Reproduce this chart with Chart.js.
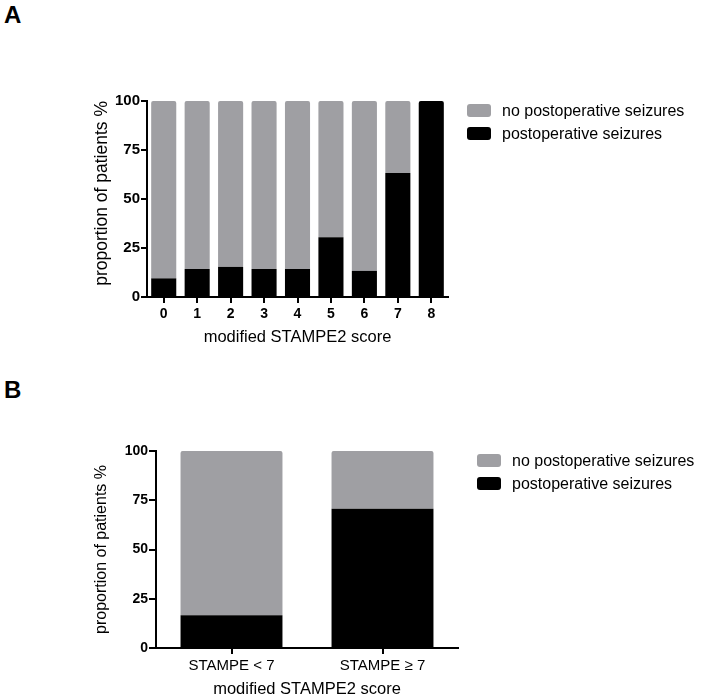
<!DOCTYPE html>
<html>
<head>
<meta charset="utf-8">
<script src="https://cdn.jsdelivr.net/npm/chart.js@4/dist/chart.umd.min.js"></script>
<style>
  body { margin: 0; background: #fff; }
  #page { position: relative; width: 704px; height: 700px; font-family: "Liberation Sans", Arial, sans-serif; }
  .panel { position: absolute; left: 0; width: 704px; height: 350px; }
  .letter { position: absolute; left: 4px; font-size: 24px; font-weight: bold; color: #000; line-height: 24px; }
  .legend { position: absolute; font-size: 16px; color: #000; }
  .legend .item { display: flex; align-items: center; height: 23px; }
  .legend .box { width: 24px; height: 13px; border-radius: 3px; margin-right: 11px; }
</style>
</head>
<body>
<div id="page">
  <div class="letter" style="top:3px">A</div>
  <div class="panel" style="top:0"><canvas id="chartA" width="704" height="350"></canvas></div>
  <div class="legend" id="legendA" style="left:467px; top:99px"></div>

  <div class="letter" style="top:378px">B</div>
  <div class="panel" style="top:350px"><canvas id="chartB" width="704" height="350"></canvas></div>
  <div class="legend" id="legendB" style="left:477px; top:449px"></div>
</div>
<script>
// panel A: modified STAMPE2 score 0..8
const scoresA = ['0', '1', '2', '3', '4', '5', '6', '7', '8'];
const seizuresA = [9.5, 14.3, 15.4, 14.3, 14.3, 30.5, 13.3, 63.3, 100];
const noSeizuresA = [90.5, 85.7, 84.6, 85.7, 85.7, 69.5, 86.7, 36.7, 0];

// panel B: grouped score
const groupsB = ['STAMPE < 7', 'STAMPE \u2265 7'];
const seizuresB = [16.6, 70.7];
const noSeizuresB = [83.4, 29.3];

const yTicks = [0, 25, 50, 75, 100];

const GREY = '#9f9fa3';
const BLACK = '#000000';
const FONT = '"Liberation Sans", Arial, sans-serif';

function makeChart(id, legendId, labels, seiz, noSeiz, cfg) {
  const chart = new Chart(document.getElementById(id), {
    type: 'bar',
    data: {
      labels: labels,
      datasets: [
        { label: 'postoperative seizures', data: seiz, backgroundColor: BLACK, borderRadius: 2, borderWidth: 0 },
        { label: 'no postoperative seizures', data: noSeiz, backgroundColor: GREY, borderRadius: 2, borderWidth: 0 },
      ],
    },
    options: {
      responsive: false,
      animation: false,
      layout: { padding: { left: 0, right: cfg.padRight, top: 101, bottom: 0 } },
      plugins: { legend: { display: false }, tooltip: { enabled: false } },
      datasets: { bar: { categoryPercentage: 1, barPercentage: cfg.barPct } },
      scales: {
        x: {
          stacked: true,
          afterFit: (s) => { s.height = 350 - cfg.bottom; },
          border: { color: '#000', width: 2 },
          grid: { drawOnChartArea: false, offset: false, color: '#000', lineWidth: 2, tickLength: 6 },
          ticks: { color: '#000', padding: cfg.xPad, font: { family: FONT, size: cfg.xSize, weight: cfg.xWeight } },
          title: { display: true, text: 'modified STAMPE2 score', color: '#000',
                   font: { family: FONT, size: 16.5 }, padding: { top: 0, bottom: cfg.xTitlePad } },
        },
        y: {
          stacked: true,
          min: 0, max: 100,
          afterFit: (s) => { s.width = cfg.left; },
          afterBuildTicks: (s) => { s.ticks = yTicks.map(v => ({ value: v })); },
          border: { color: '#000', width: 2 },
          grid: { drawOnChartArea: false, color: '#000', lineWidth: 2, tickLength: cfg.yTick },
          ticks: { color: '#000', padding: 1, font: { family: FONT, size: cfg.ySize, weight: 'bold' } },
          title: { display: true, text: 'proportion of patients %', color: '#000', align: cfg.yTitleAlign,
                   font: { family: FONT, size: cfg.yTitleSize }, padding: { top: cfg.yTitlePad, bottom: 0 } },
        },
      },
    },
  });

  // html legend from the chart's own legend items, grey entry first
  const items = chart.options.plugins.legend.labels.generateLabels(chart).reverse();
  const box = document.getElementById(legendId);
  items.forEach(it => {
    const row = document.createElement('div');
    row.className = 'item';
    const sw = document.createElement('span');
    sw.className = 'box';
    sw.style.background = it.fillStyle;
    const tx = document.createElement('span');
    tx.textContent = it.text;
    row.appendChild(sw);
    row.appendChild(tx);
    box.appendChild(row);
  });
  return chart;
}

makeChart('chartA', 'legendA', scoresA, seizuresA, noSeizuresA, {
  left: 147, padRight: 704 - 448, bottom: 297, barPct: 0.75,
  xPad: 3, xSize: 14, xWeight: 'bold', xTitlePad: 2.8,
  yTick: 6, ySize: 15, yTitleSize: 17.5, yTitlePad: 92, yTitleAlign: 'end',
});

makeChart('chartB', 'legendB', groupsB, seizuresB, noSeizuresB, {
  left: 156, padRight: 704 - 458, bottom: 298, barPct: 0.675,
  xPad: 3, xSize: 15, xWeight: 'normal', xTitlePad: 0.8,
  yTick: 7, ySize: 14, yTitleSize: 16, yTitlePad: 92, yTitleAlign: 'center',
});
</script>
</body>
</html>
